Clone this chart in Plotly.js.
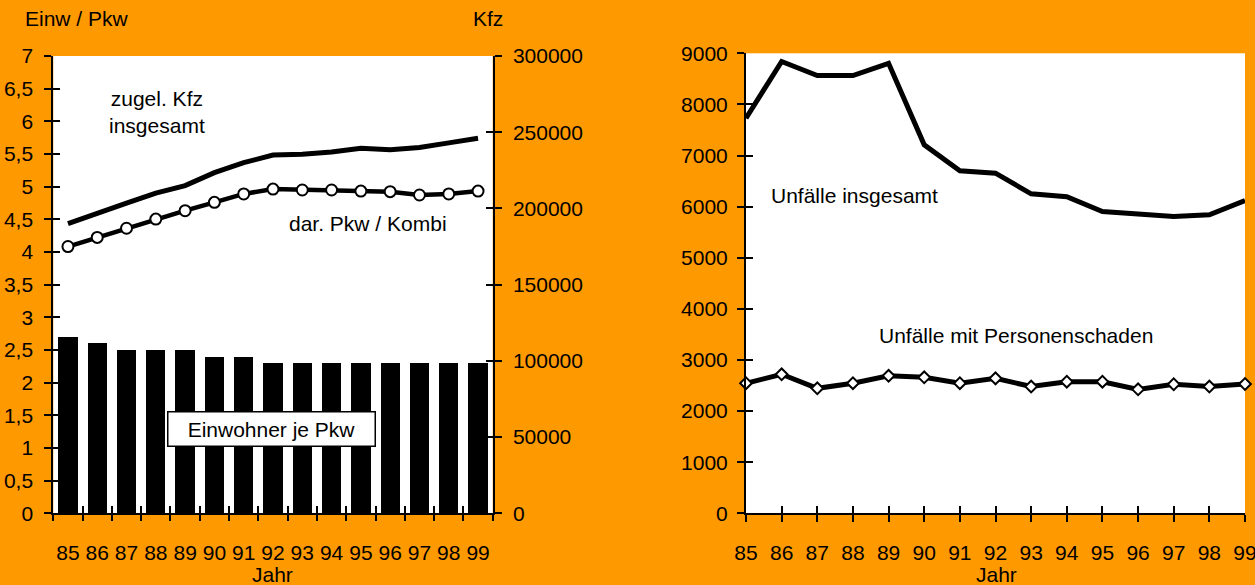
<!DOCTYPE html>
<html>
<head>
<meta charset="utf-8">
<script src="https://cdn.plot.ly/plotly-3.0.1.min.js"></script>
<style>html,body{margin:0;padding:0;background:#FF9900;}#chart{width:1255px;height:585px;}</style>
</head>
<body>
<div id="chart"></div>
<script>
// ---- data ----
const years = [85, 86, 87, 88, 89, 90, 91, 92, 93, 94, 95, 96, 97, 98, 99];
const yearLabels = ['85','86','87','88','89','90','91','92','93','94','95','96','97','98','99'];
const einwohnerJePkw = [2.7, 2.6, 2.5, 2.5, 2.5, 2.4, 2.4, 2.3, 2.3, 2.3, 2.3, 2.3, 2.3, 2.3, 2.3];
const kfzInsgesamt = [190000, 197000, 203500, 210000, 215000, 223500, 230000, 235000, 235500, 237000, 239500, 238500, 240000, 243000, 246000];
const pkwKombi = [175000, 181000, 187000, 193000, 198500, 204000, 209500, 212700, 212100, 212100, 211400, 211000, 208800, 209500, 211400];
const unfaelleInsgesamt = [7730, 8840, 8565, 8565, 8805, 7210, 6700, 6655, 6250, 6195, 5905, 5860, 5805, 5840, 6120];
const unfaellePersonen = [2545, 2720, 2445, 2545, 2690, 2660, 2545, 2640, 2480, 2575, 2575, 2425, 2525, 2480, 2530];

// ---- styling ----
const W = 1255, H = 585;
const FONT = {family: 'Liberation Sans, Arial, sans-serif', size: 21, color: '#000'};
const px = v => v / W;
const py = v => (H - v) / H;

const leftX = [px(53.3), px(492.7)];
const leftY = [py(513.3), py(56)];
const rightX = [px(746), px(1245)];
const rightY = [py(513.3), py(53.3)];

const base = {showgrid: false, zeroline: false, fixedrange: true, tickfont: FONT,
  tickcolor: '#000', tickwidth: 2, ticklen: 7};
const helper = Object.assign({}, base, {showticklabels: false, showline: false});

// invisible traces that only register the helper (tick) axes
const ghost = (xa, ya, yv) => ({type: 'scatter', mode: 'none', x: years, y: yv, xaxis: xa, yaxis: ya,
  hoverinfo: 'skip', showlegend: false});

const traces = [
  {type: 'bar', x: years, y: einwohnerJePkw, xaxis: 'x', yaxis: 'y', width: 0.66,
   marker: {color: '#000', line: {width: 0}}, hoverinfo: 'skip'},
  ghost('x3', 'y', einwohnerJePkw),
  ghost('x4', 'y', einwohnerJePkw),
  ghost('x', 'y3', einwohnerJePkw),
  ghost('x', 'y4', kfzInsgesamt),
  ghost('x5', 'y5', unfaellePersonen),
  ghost('x2', 'y6', unfaellePersonen),
  {type: 'scatter', mode: 'lines', x: years, y: kfzInsgesamt, xaxis: 'x', yaxis: 'y2',
   line: {color: '#000', width: 5}, hoverinfo: 'skip'},
  {type: 'scatter', mode: 'lines+markers', x: years, y: pkwKombi, xaxis: 'x', yaxis: 'y2',
   line: {color: '#000', width: 4.5}, cliponaxis: false,
   marker: {symbol: 'circle', size: 11, color: '#fff', line: {color: '#000', width: 2}}, hoverinfo: 'skip'},
  {type: 'scatter', mode: 'lines', x: years, y: unfaelleInsgesamt, xaxis: 'x2', yaxis: 'y5',
   line: {color: '#000', width: 5}, hoverinfo: 'skip'},
  {type: 'scatter', mode: 'lines+markers', x: years, y: unfaellePersonen, xaxis: 'x2', yaxis: 'y5',
   line: {color: '#000', width: 5}, cliponaxis: false,
   marker: {symbol: 'diamond', size: 9, color: '#fff', line: {color: '#000', width: 2}}, hoverinfo: 'skip'}
];

const ann = (text, x, y, extra) => Object.assign({text: text, x: px(x), y: py(y), xref: 'paper', yref: 'paper',
  showarrow: false, font: FONT, xanchor: 'center', yanchor: 'middle'}, extra || {});

const layout = {
  width: W, height: H,
  margin: {l: 0, r: 0, t: 0, b: 0},
  paper_bgcolor: '#FF9900', plot_bgcolor: '#FFFFFF',
  separators: ',.',
  showlegend: false,
  bargap: 0,
  xaxis: Object.assign({}, base, {domain: leftX, anchor: 'y', range: [84.5, 99.5], tickmode: 'array',
    tickvals: years, ticktext: yearLabels, ticks: '', showline: true, linecolor: '#000', linewidth: 2,
    tickangle: 0, ticklabelstandoff: 19}),
  xaxis3: Object.assign({}, helper, {overlaying: 'x', anchor: 'y', range: [84.5, 99.5], tickmode: 'linear',
    tick0: 84.5, dtick: 1, ticks: 'outside'}),
  xaxis4: Object.assign({}, helper, {overlaying: 'x', anchor: 'y', range: [84.5, 99.5], tickmode: 'linear',
    tick0: 84.5, dtick: 1, ticks: 'inside'}),
  yaxis: Object.assign({}, base, {domain: leftY, anchor: 'x', range: [0, 7], tickmode: 'linear', tick0: 0, dtick: 0.5,
    ticks: 'outside', showline: true, linecolor: '#000', linewidth: 2, ticklabelstandoff: 7}),
  yaxis3: Object.assign({}, helper, {overlaying: 'y', anchor: 'x', side: 'left', range: [0, 7], tickmode: 'linear',
    tick0: 0, dtick: 0.5, ticks: 'inside'}),
  yaxis2: Object.assign({}, base, {overlaying: 'y', anchor: 'x', side: 'right', range: [0, 300000], tickmode: 'linear',
    tick0: 0, dtick: 50000, tickformat: 'd', ticks: 'outside', showline: true, linecolor: '#000', linewidth: 2,
    ticklabelstandoff: 7}),
  yaxis4: Object.assign({}, helper, {overlaying: 'y', anchor: 'x', side: 'right', range: [0, 300000], tickmode: 'linear',
    tick0: 0, dtick: 50000, ticks: 'inside'}),
  xaxis2: Object.assign({}, base, {domain: rightX, anchor: 'y5', range: [85, 99], tickmode: 'array',
    tickvals: years, ticktext: yearLabels, ticks: 'outside', showline: true, linecolor: '#000', linewidth: 2,
    tickangle: 0, ticklabelstandoff: 12, ticklabeloverflow: 'allow'}),
  xaxis5: Object.assign({}, helper, {overlaying: 'x2', anchor: 'y5', range: [85, 99], tickmode: 'linear',
    tick0: 85, dtick: 1, ticks: 'inside'}),
  yaxis5: Object.assign({}, base, {domain: rightY, anchor: 'x2', range: [0, 9000], tickmode: 'linear', tick0: 0,
    dtick: 1000, tickformat: 'd', ticks: 'outside', showline: true, linecolor: '#000', linewidth: 2,
    ticklabelstandoff: 5}),
  yaxis6: Object.assign({}, helper, {overlaying: 'y5', anchor: 'x2', side: 'left', range: [0, 9000], tickmode: 'linear',
    tick0: 0, dtick: 1000, ticks: 'inside'}),
  annotations: [
    ann('Einw / Pkw', 22.7, 18.7, {xanchor: 'left'}),
    ann('Kfz', 488, 18.5),
    ann('zugel. Kfz<br>insgesamt', 156.7, 112, {align: 'center'}),
    ann('dar. Pkw / Kombi', 367.5, 223),
    ann('Einwohner je Pkw', 271, 429, {bgcolor: '#fff', bordercolor: '#000', borderwidth: 1.5, borderpad: 1,
      width: 204, height: 31}),
    ann('Jahr', 272.5, 574),
    ann('Jahr', 996, 574),
    ann('Unfälle insgesamt', 855, 195),
    ann('Unfälle mit Personenschaden', 1016, 335)
  ]
};

Plotly.newPlot('chart', traces, layout, {displayModeBar: false, staticPlot: true});
</script>
</body>
</html>
